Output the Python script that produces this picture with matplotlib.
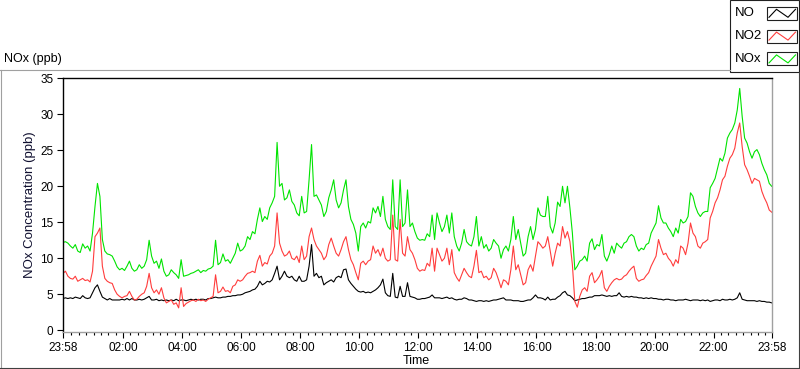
import numpy as np
import matplotlib
matplotlib.use("Agg")
import matplotlib.pyplot as plt
from matplotlib.lines import Line2D
from matplotlib.patches import Rectangle

plt.rcParams['font.family'] = ['Liberation Sans', 'DejaVu Sans']

# values read every 5 minutes, starting 23:58
no = [
    4.4, 4.5, 4.4, 4.5, 4.4, 4.6, 4.5, 4.4, 4.8, 4.5,
    4.4, 4.5, 5.2, 5.9, 6.3, 5.4, 4.6, 4.4, 4.2, 4.4,
    4.2, 4.2, 4.2, 4.2, 4.3, 4.2, 4.4, 4.2, 4.4, 4.2,
    4.2, 4.3, 4.2, 4.3, 4.5, 4.7, 4.2, 4.2, 4.3, 4.1,
    4.2, 4.1, 4.2, 4.1, 4.2, 4.1, 4.3, 4.1, 4.2, 4.2,
    4.1, 4.2, 4.3, 4.2, 4.3, 4.2, 4.3, 4.3, 4.2, 4.4,
    4.4, 4.5, 4.6, 4.5, 4.5, 4.6, 4.6, 4.7, 4.7, 4.8,
    4.8, 4.9, 4.9, 5.0, 5.2, 5.3, 5.4, 5.6, 5.7, 6.1,
    6.8, 6.3, 6.5, 6.8, 6.7, 7.0, 7.9, 8.9, 7.0, 7.5,
    8.2, 7.5, 7.3, 7.5, 7.0, 6.8, 7.5, 6.8,
    6.8, 7.0, 8.9, 11.9, 7.5, 7.9, 7.3, 7.5, 6.3, 6.6, 6.8, 7.0,
    6.7, 7.3, 7.5, 7.3, 8.4, 8.5, 7.0, 6.5, 6.1, 5.7,
    5.4, 5.3, 5.4, 5.2, 5.3, 5.2, 5.4, 5.6, 5.9, 6.3,
    7.1, 5.2, 4.8, 4.7, 7.9, 4.6, 4.5, 6.1, 4.7, 4.7,
    6.6, 4.7, 4.6, 4.5, 4.3, 4.3, 4.4,
    4.4, 4.5, 4.6, 4.9, 4.5, 4.5, 4.5, 4.4, 4.5, 4.6,
    4.4, 4.5, 4.3, 4.2, 4.3, 4.3, 4.5, 4.4, 4.2, 4.2,
    4.1, 4.0, 4.1, 4.1, 4.0, 4.1, 4.0, 4.1, 4.2, 4.2,
    4.3, 4.4, 4.5, 4.2, 4.2, 4.2, 4.1, 4.1, 4.1, 4.0,
    4.0, 4.1, 4.2, 4.2, 4.5, 4.9, 4.5, 4.5, 4.4,
    4.2, 4.6, 4.2, 4.3, 4.3, 4.6, 4.8, 5.2, 5.4, 4.9,
    4.8, 4.5, 4.1, 4.2, 4.3, 4.4, 4.4, 4.5, 4.6, 4.6,
    4.8, 4.8, 4.8, 4.9, 4.8, 4.7, 4.8, 4.7, 4.8, 4.8,
    5.2, 4.7, 4.6, 4.7, 4.6, 4.7, 4.6, 4.6, 4.5, 4.5,
    4.4, 4.5, 4.4, 4.5, 4.4, 4.4, 4.3, 4.3, 4.2,
    4.3, 4.3, 4.2, 4.2, 4.1, 4.2, 4.2, 4.2, 4.3, 4.2,
    4.1, 4.2, 4.2, 4.2, 4.1, 4.2, 4.1, 4.2, 4.0, 4.1,
    4.2, 4.2, 4.1, 4.3, 4.2, 4.2, 4.3, 4.2, 4.3, 4.5,
    5.2, 4.3, 4.2, 4.1, 4.1, 4.1, 4.1, 4.0, 4.1, 4.0,
    4.0, 3.9, 3.9, 3.8,
]

no2 = [
    7.9, 8.2, 7.5, 7.2, 7.1, 7.5, 6.8, 7.0, 7.2, 6.9,
    7.0, 6.7, 8.2, 13.0, 13.5, 14.2, 8.9, 7.2, 6.8, 6.6,
    6.5, 5.6, 5.0, 4.7, 4.5, 4.7, 4.8, 5.4, 4.7, 4.2,
    4.3, 4.7, 5.0, 5.2, 6.1, 7.9, 5.9, 5.2, 5.6, 5.0,
    5.9, 4.5, 3.8, 4.0, 4.2, 3.6, 3.8, 3.1, 5.9, 3.3,
    3.7, 3.9, 4.1, 4.2, 4.0, 4.3, 4.1, 4.2, 4.0, 4.3,
    4.5, 4.7, 7.7, 5.2, 5.4, 6.0, 5.4, 5.5, 5.2, 6.1,
    6.3, 7.0, 6.8, 7.0, 7.5, 7.9, 8.0, 8.2, 8.0, 9.6,
    10.4, 8.9, 9.4, 9.2, 10.3, 10.7, 11.7, 16.3, 12.1, 11.0,
    10.3, 10.5, 11.0, 10.0, 9.8, 10.3, 9.4, 11.7,
    9.8, 10.3, 13.0, 14.2, 12.6, 11.7, 11.2, 10.7, 9.8, 10.3, 11.9, 12.8,
    11.7, 10.7, 10.3, 11.2, 12.3, 13.0, 11.2, 9.8, 9.1, 8.0,
    7.0, 9.3, 9.6, 9.1, 9.6, 9.8, 11.7, 10.7, 11.2, 10.3,
    11.4, 10.0, 9.6, 9.8, 16.0, 9.8, 9.6, 15.4, 10.7, 10.3,
    13.0, 11.2, 10.7, 9.8, 8.6, 8.2, 8.4,
    8.3, 9.3, 8.9, 11.4, 8.2, 11.4, 10.5, 9.6, 10.0, 11.4,
    9.1, 11.2, 8.0, 7.3, 6.8, 7.7, 8.6, 8.0, 7.5, 7.3,
    8.9, 11.1, 8.0, 8.2, 7.3, 7.5, 7.0, 7.3, 8.6, 8.0,
    7.0, 5.9, 7.0, 6.8, 6.3, 8.4, 11.7, 8.4, 9.1, 7.7,
    6.3, 6.6, 8.4, 9.1, 8.2, 10.3, 12.3, 11.9, 11.4,
    11.7, 13.0, 11.0, 8.9, 10.7, 12.1, 11.7, 14.4, 12.8, 13.7,
    12.3, 9.1, 4.0, 3.2, 4.7, 5.6, 5.9, 5.4, 7.5, 8.0,
    6.6, 7.0, 7.5, 8.3, 5.9, 5.4, 6.1, 6.6, 7.0, 7.2,
    7.0, 7.1, 7.5, 7.7, 8.2, 8.6, 8.9, 7.2, 6.8, 7.0,
    7.1, 7.6, 8.0, 8.9, 9.6, 10.3, 12.6, 11.4, 10.5,
    10.7, 10.0, 9.6, 8.9, 9.8, 9.3, 11.7, 11.4, 10.5, 12.1,
    14.9, 13.5, 13.0, 11.7, 11.4, 12.1, 12.3, 12.6, 15.6, 16.5,
    17.7, 18.4, 19.5, 20.9, 21.4, 22.8, 23.9, 24.4, 25.3, 27.4,
    28.8, 25.5, 23.0, 22.3, 21.4, 20.4, 21.1, 20.9, 20.7, 19.3,
    18.4, 17.7, 16.7, 16.4,
]

nox = [
    12.2, 12.3, 12.1, 11.7, 11.4, 11.9, 11.0, 10.8, 12.0, 11.4,
    11.7, 11.0, 13.5, 17.2, 20.4, 18.6, 12.6, 11.0, 10.6, 10.5,
    10.3, 9.6, 8.8, 8.4, 8.6, 8.3, 8.9, 9.6, 8.6, 8.2,
    8.4, 9.1, 8.6, 8.9, 9.8, 12.5, 10.3, 9.3, 9.6, 8.6,
    9.9, 8.2, 7.5, 7.7, 8.4, 8.0, 7.7, 7.2, 9.8, 7.5,
    7.6, 7.7, 7.9, 8.0, 8.2, 8.4, 8.0, 8.3, 8.2, 8.5,
    8.6, 8.9, 12.5, 9.1, 9.4, 10.6, 9.6, 9.8, 9.3, 10.0,
    10.7, 12.1, 11.0, 11.2, 11.7, 13.0, 12.6, 13.7, 13.4, 15.4,
    17.0, 15.1, 15.8, 15.4, 17.0, 17.7, 18.6, 26.1, 20.0, 20.4,
    18.1, 18.4, 19.5, 17.9, 17.4, 16.3, 15.9, 18.6,
    16.3, 16.5, 20.9, 25.8, 18.6, 18.8, 18.1, 17.4, 15.8, 16.5, 18.4, 19.5,
    20.9, 18.1, 17.0, 17.7, 19.5, 20.9, 17.2, 15.4, 14.7, 13.5,
    11.0, 14.4, 14.9, 14.2, 15.1, 14.9, 17.0, 16.3, 17.2, 15.8,
    18.6, 15.4, 14.4, 14.0, 20.9, 14.4, 14.0, 20.9, 14.4, 14.9,
    19.5, 14.4, 14.9, 13.7, 12.8, 12.5, 12.6,
    12.5, 13.4, 13.0, 16.0, 12.6, 16.3, 14.9, 13.7, 14.4, 16.0,
    13.5, 16.3, 13.0, 11.7, 11.0, 12.1, 14.0, 12.3, 11.9, 11.7,
    13.0, 15.8, 11.7, 13.0, 11.4, 11.9, 11.0, 11.4, 12.6, 12.1,
    11.7, 10.0, 11.2, 11.7, 11.0, 12.6, 15.8, 12.6, 14.0, 12.1,
    10.3, 10.7, 13.0, 14.4, 12.6, 14.0, 17.0, 16.0, 15.8,
    15.8, 18.6, 14.4, 13.5, 14.9, 17.8, 17.2, 20.0, 17.7, 20.0,
    17.0, 13.5, 8.4, 8.9, 9.6, 9.8, 10.3, 9.6, 12.1, 12.7,
    11.2, 11.9, 11.7, 13.3, 10.3, 9.6, 10.5, 11.7, 10.7, 12.1,
    11.7, 11.4, 12.1, 12.3, 13.0, 13.3, 13.0, 11.7, 11.0, 11.4,
    11.2, 11.9, 12.1, 13.5, 14.2, 14.9, 17.3, 15.6, 14.9,
    14.9, 14.2, 13.7, 13.0, 14.2, 13.5, 15.4, 14.9, 15.1, 15.8,
    19.1, 18.6, 17.2, 16.3, 15.8, 16.3, 16.5, 16.5, 19.8, 20.4,
    21.1, 22.5, 23.9, 23.5, 24.6, 26.7, 27.4, 27.9, 28.8, 30.6,
    33.6, 29.7, 26.7, 26.0, 24.8, 23.9, 24.8, 25.1, 24.4, 23.2,
    22.3, 21.6, 20.4, 20.0,
]

tick_minutes = [0, 122, 242, 362, 482, 602, 722, 842, 962, 1082, 1202, 1322, 1440]
tick_labels = ["23:58", "02:00", "04:00", "06:00", "08:00", "10:00", "12:00",
               "14:00", "16:00", "18:00", "20:00", "22:00", "23:58"]
series_names = ["NO", "NO2", "NOx"]
series_colors = ["#000000", "#ff3c3c", "#00e400"]

assert len(no) == len(no2) == len(nox)
minutes = np.arange(len(no)) * 5

W, H = 800, 369


def fx(px):
    return px / W


def fy(py):
    return 1 - py / H


fig = plt.figure(figsize=(W / 100, H / 100), dpi=100)
fig.patch.set_facecolor("white")

ax = fig.add_axes([fx(63), fy(332), (771.7 - 63) / W, (332 - 78) / H])
for vals, col in zip([no, no2, nox], series_colors):
    ax.plot(minutes, vals, color=col, lw=0.8)

ax.set_xlim(0, 1440)
ax.set_ylim(-0.25, 35.05)
ax.set_yticks(range(0, 36, 5))
ax.set_xticks(tick_minutes)
ax.set_xticklabels(tick_labels)
minor = [m for m in range(17, 1440, 15) if m not in tick_minutes]
ax.set_xticks(minor, minor=True)
ax.tick_params(axis="both", which="major", direction="out", length=4.5,
               width=0.8, labelsize=8.5, pad=2.5, color="black")
ax.tick_params(axis="x", which="minor", direction="out", length=2.5, width=0.8)

ax.spines["top"].set_color("black")
ax.spines["left"].set_color("black")
ax.spines["bottom"].set_color("#a0a0a0")
ax.spines["right"].set_color("#a0a0a0")
for s in ax.spines.values():
    s.set_linewidth(1.0)

# outer panel frame
fig.add_artist(Line2D([fx(0), fx(730)], [fy(69.5), fy(69.5)], color="#a0a0a0", lw=0.8))
fig.add_artist(Line2D([fx(1), fx(1)], [fy(69.5), fy(367.5)], color="#a0a0a0", lw=0.8))
fig.add_artist(Line2D([fx(0), fx(799)], [fy(367.5), fy(367.5)], color="#404040", lw=0.8))
fig.add_artist(Line2D([fx(798.5), fx(798.5)], [fy(72), fy(367.5)], color="#404040", lw=0.8))

fig.text(fx(4), fy(59), "NOx (ppb)", fontsize=9, ha="left", va="center")
fig.text(fx(30), fy(205), "NOx Concentration (ppb)", fontsize=9.5,
         rotation=90, ha="center", va="center", color="#101030")
fig.text(fx(416), fy(361), "Time", fontsize=9, ha="center", va="center")

# legend box
fig.add_artist(Rectangle((fx(730), fy(72)), (799 - 730) / W, 72 / H,
                         facecolor="white", edgecolor="#202020", lw=0.8))
for i, (name, col) in enumerate(zip(series_names, series_colors)):
    cy = 13.3 + 22.8 * i
    fig.text(fx(735), fy(cy), name, fontsize=9.5, ha="left", va="center")
    fig.add_artist(Rectangle((fx(767), fy(cy + 6.5)), 30 / W, 13 / H,
                             facecolor="white", edgecolor="#202020", lw=0.8))
    zx = [769, 776.5, 788, 795.5]
    zy = [cy + 4, cy - 4, cy + 4, cy - 4]
    fig.add_artist(Line2D([fx(v) for v in zx], [fy(v) for v in zy], color=col, lw=0.8))

fig.savefig("out.png", dpi=100)
